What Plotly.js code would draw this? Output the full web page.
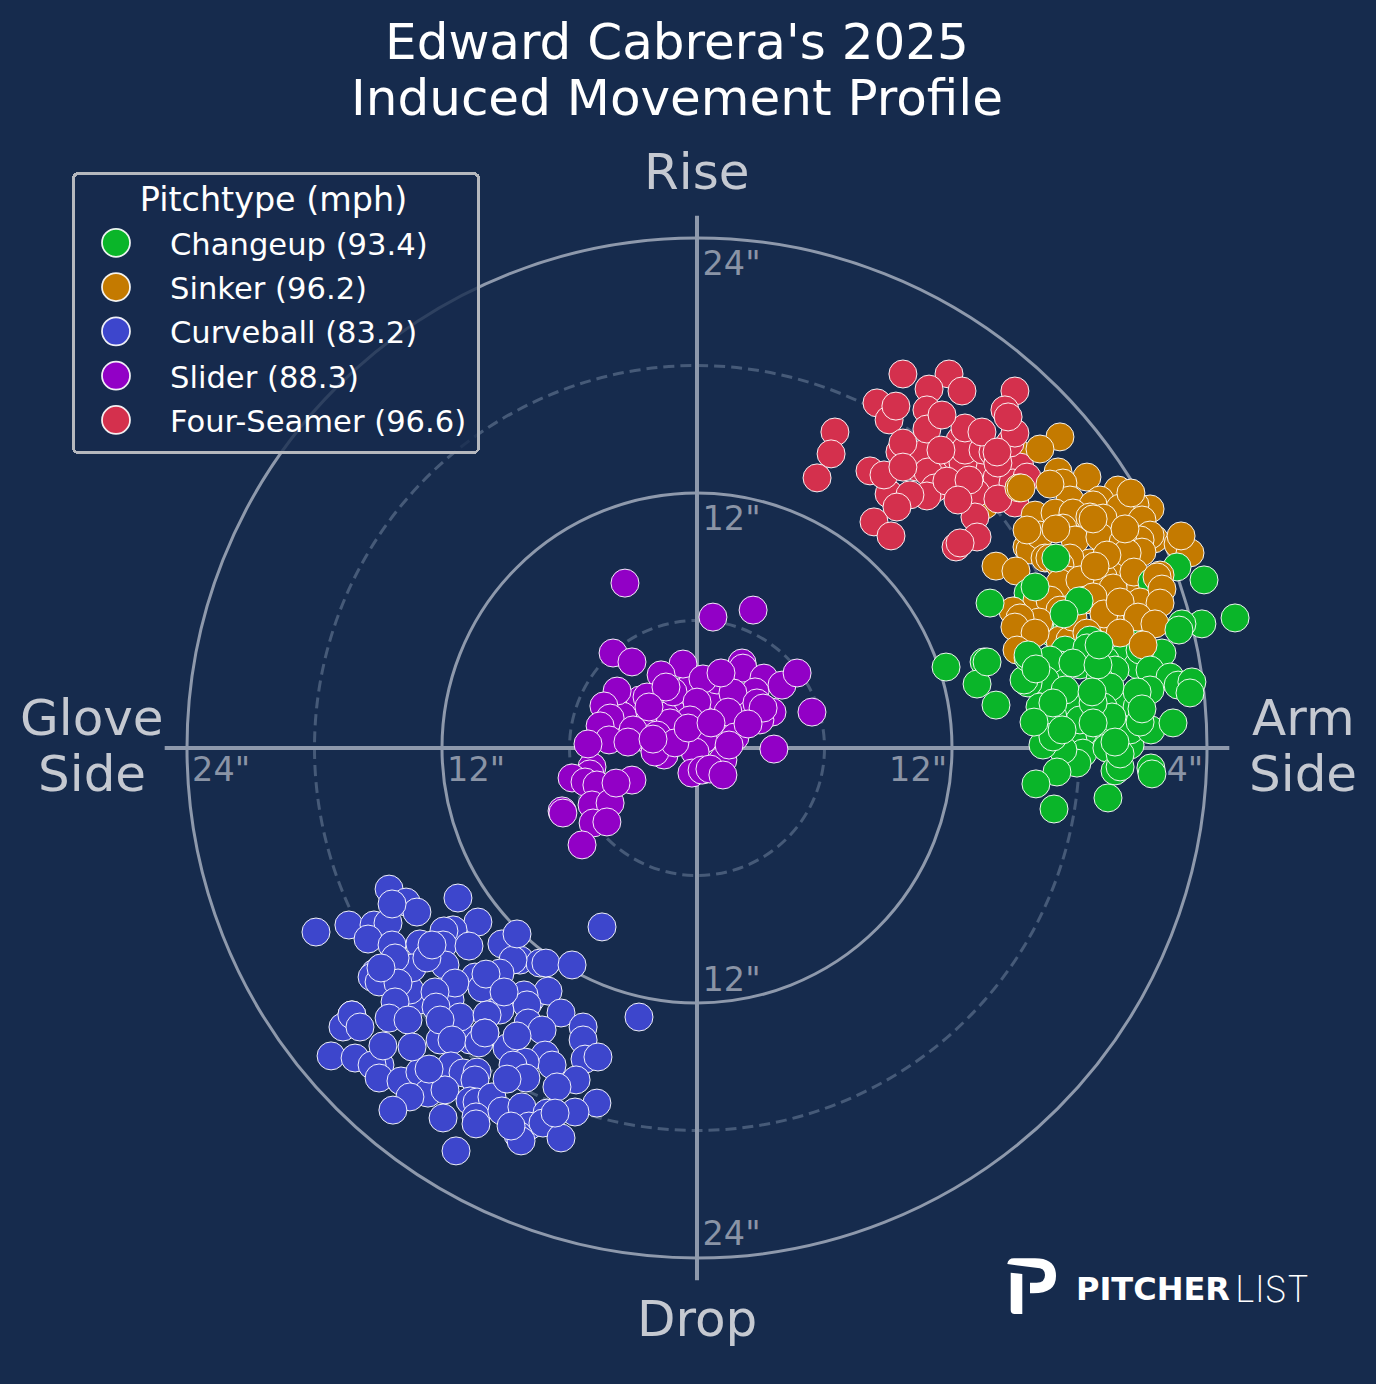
<!DOCTYPE html>
<html>
<head>
<meta charset="utf-8">
<script src="https://cdn.plot.ly/plotly-3.0.1.min.js"></script>
<style>html,body{margin:0;padding:0;background:#162B4D}#chart{width:1376px;height:1384px}</style>
</head>
<body>
<div id="chart"></div>
<script>
// Induced movement in inches: [horizontal, vertical]
const sinkerBack = [[14.96,14.02],[13.55,11.44]];
const fourSeamer = [[10.35,13.22],[11.76,13.41],[13.18,13.22],[12.52,13.41],[13.65,12.14],[15.2,13.22],[14.12,12.71],[14.87,12.47],[15.53,12.75],[14.96,11.53],
[9.55,13.93],[10.64,13.84],[12.38,14.49],[12.61,14.02],[13.46,14.02],[13.93,13.93],[14.73,14.35],[14.16,13.41],[11.11,12.99],[10.87,12.99],[11.2,12.24],[10.82,11.86],[9.04,11.95],[10.02,11.91],[13.13,12.0],[9.41,11.34],[13.08,10.87],[13.18,9.93],[12.19,9.46],
[9.69,17.6],[11.86,17.6],[10.92,16.89],[12.47,16.8],[14.96,16.8],[8.47,16.24],[14.49,15.91],[10.82,15.91],[9.04,15.44],[6.49,14.87],[6.31,13.84],[5.65,12.71],[8.14,13.04],[8.8,12.85],[10.82,15.01],[12.61,15.06],[13.41,14.87],[14.96,14.82],[8.33,10.64],[9.13,9.98],[11.76,12.56],
[9.36,16.09],[14.64,15.58],[11.53,15.67],[9.69,14.35],[11.48,14.02],[14.12,13.93],[9.69,13.22],[12.8,12.61],[14.16,11.72],[12.28,11.67],[12.38,9.65]];
const sinkerMid = [[19.91,8.56],[17.79,10.73],[19.2,10.02],[17.08,7.39],[17.08,14.64],[16.14,14.07],[16.99,12.99],[18.35,12.75],[17.22,12.47],[15.15,12.24],[19.81,12.14],[17.55,11.67],[18.96,11.67],[18.64,11.44],[21.32,11.25],[20.61,11.44],[19.91,11.29],[20.94,10.73],[15.91,10.96],[16.85,11.06],[17.69,11.06],[18.49,10.87],[19.11,10.82],[17.22,10.35],[21.51,9.84],[22.64,9.6],[23.2,9.18],[15.53,9.46],[15.67,9.32],[16.14,10.02],[17.79,9.79],[21.32,10.02],[20.85,9.79],[18.96,9.93],[20.05,9.69],[20.94,9.22],[18.49,8.71],[16.38,8.94],[16.61,8.94],[17.55,8.94],[17.08,8.61],[20.24,9.18],[14.07,8.56],[15.01,8.33],[17.41,7.91],[17.08,7.76],[19.11,8.05],[18.02,7.91],[20.85,7.44],
[19.58,7.53],[20.42,12],[18.64,10.78],[20.14,10.31],[16.89,10.31],[15.53,10.26],[22.78,9.98],[15.25,12.24],[16.61,12.42],[19.29,9.08],[18.73,8.56],[20.56,8.28]];
const changeupLow = [[22.59,8.52],[21.41,7.81],[15.44,6.73],[15.58,7.29],[16.75,5.41],[17.41,5.65],[20.71,5.41],[20,4.24],[20.75,3.91],[21.88,4.47],[20.85,4.61]];
const sinkerFront = [[20.85,6.87],[18.96,5.55],[17.08,5.08],[16,6.96],[16.61,6.96],[17.08,6.49],[18.26,6.96],[19.44,6.02],[17.55,5.08],[21.79,8.14],[21.65,8.05],[21.88,7.48],[21.79,6.82],[18.64,7.11],[19.15,6.31],[19.91,6.87],[20.75,6.16],[21.55,5.84],[17.69,6.16],[16.09,5.93],[14.87,6.45],[15.2,6.12],[14.96,5.69],[15.91,5.41],[15.06,4.61],[19.91,5.41],[18.35,5.41],[20.99,4.85]];
const changeupTop = [[18.49,5.08],[17.32,4.61],[17.08,3.91],[16.61,4.14],[16.38,3.2],[18.02,3.91],[19.2,4.14],[18.35,4.71],[17.69,4],[19.67,3.67],[21.32,3.67],[22.26,3.34],[22.64,2.96],[15.58,3.06],[15.39,3.2],[15.58,4.24],[15.58,4.38],
[19.91,2.26],[21.32,2.73],[18.96,3.2],[17.08,.14],[18.73,.61],[20.38,.14],
[18.16,.71],[17.69,.38],[18.16,-.24],[17.88,-.71],[19.29,0],[19.67,-1.08],[19.91,-.89],[17.22,-.09],[20.38,.85],[20.24,2.26],[19.44,2.87],[17.69,1.93],[18.02,1.32],[20.71,1.93],[20.71,2.64],[21.36,.85],[20.85,1.22],[16.14,1.93],[16.75,1.46],[16.28,.14],[16.75,.52],[19.11,1.93],[19.53,1.46],[17.32,2.73],[18.64,2.12],[19.91,-.28],
[11.72,3.81],[13.51,4.05],[13.18,3.01],[14.07,2.02],[23.29,3.11],[22.4,1.18],[16.94,-1.13],[15.95,-1.69],[16.8,-2.87],[19.34,-2.35],[21.36,-.94],[23.86,7.91],[13.79,6.82],[25.32,6.12],[23.76,5.84],[22.82,5.84],[22.68,5.55],
[13.65,4.05],[15.95,3.72],[18.87,3.91],[18.92,4.85],[18.59,2.64],[16.75,2.12],[15.86,1.22],[18.64,1.18],[17.18,.85],[20.94,1.84],[19.67,.28],[23.2,2.59],[21.41,-1.22],[16.89,8.94],[15.91,7.58],[17.98,6.92],[17.27,6.31]];
const curveball = [[-13.04,-11.86],[-11.62,-11.86],[-9.27,-12.33],[-13.51,-11.39],[-10.68,-13.74],[-7.86,-11.86],[-12.09,-13.74],
[-14.49,-6.64],[-13.69,-7.25],[-13.18,-7.72],[-11.25,-7.06],[-17.93,-8.66],[-16.38,-8.33],[-15.2,-8.33],[-14.54,-8.24],[-15.48,-8.99],[-14.35,-9.27],[-10.31,-8.19],[-11.48,-8.56],[-11.91,-8.61],[-13.04,-9.22],[-11.95,-9.27],[-10.73,-9.32],[-9.18,-9.22],[-4.47,-8.42],[-8.33,-9.98],[-7.39,-10.12],[-7.11,-10.12],[-5.88,-10.21],[-8.66,-9.98],[-11.86,-10.21],[-13.41,-10.35],[-14.21,-9.88],[-12.71,-9.88],[-15.15,-10.59],[-15.29,-10.78],[-14.96,-11.01],[-14.07,-11.06],[-9.27,-10.59],[-10.45,-10.78],[-11.39,-11.06],[-12.33,-11.48],[-10.12,-11.29],[-7.01,-11.44],[-14.21,-11.95],[-8.14,-11.62],[-8,-12.09],[-6.4,-12.47],[-12.28,-12.19],[-11.15,-12.66],[-9.88,-12.56],[-7.95,-12.94],[-14.49,-12.71],[-13.6,-12.8],[-12.09,-12.8],[-16.24,-12.56],[-2.73,-12.66],[-5.36,-13.13],[-16.66,-13.13],[-9.98,-13.41],[-7.29,-13.27],[-5.36,-13.74],[-5.27,-14.64],[-4.66,-14.54],[-17.22,-14.49],[-16.09,-14.59],[-11.53,-13.74],[-10.26,-13.88],[-8.94,-14.12],[-7.15,-14.45],[-6.82,-14.92],[-8.09,-14.78],[-8.66,-14.92],[-14.92,-14.92],[-15.29,-14.92],[-14.96,-15.53],[-13.93,-15.67],[-11.58,-14.96],[-13.04,-15.25],[-11.01,-15.29],[-10.35,-15.25],[-10.45,-15.62],[-8.05,-15.53],[-5.69,-15.62],[-6.59,-15.95],[-12.66,-16.24],[-11.86,-16.09],[-13.51,-16.42],[-14.31,-17.04],[-10.68,-16.61],[-10.35,-16.66],[-9.65,-16.42],[-11.95,-17.41],[-10.4,-17.36],[-10.4,-17.69],[-9.18,-17.08],[-8.24,-16.89],[-4.71,-16.71],[-5.74,-17.13],[-7.06,-17.18],[-7.91,-17.79],[-7.25,-17.65],[-8.42,-18.21],[-8.28,-18.49],[-6.4,-18.35],[-11.34,-18.96],
[-16.24,-12.56],[-15.86,-13.13],[-14.35,-7.34],[-8.47,-8.75],[-14.87,-10.35],[-12.47,-9.27],[-9.93,-10.64],[-9.08,-11.48],[-8.47,-13.55],[-9.98,-13.41],[-8.94,-15.58],[-12.61,-15.11],[-14.78,-14.02],[-13.41,-14.07],[-6.68,-17.18],[-8.75,-17.79]];
const slider = [[-2.68,2.26],[-.8,2.12],[.61,2.26],[-.47,2.73],[-2.68,.52],[2.02,1.18],[-2.5,1.3],[-1.5,1.5],[.2,1.4],[1.2,.9],[-.7,.3],[.3,.4],[2.5,2.2],[-3.5,1.5],
[-3.39,7.76],[.75,6.16],[2.64,6.49],[-3.95,4.47],[-3.06,4.05],[-.66,3.95],[-1.69,3.44],[2.12,4],[2.16,3.76],[.94,3.2],[.28,3.25],[3.15,3.29],[4,2.96],[4.71,3.53],[-3.76,2.68],[-2.35,2.4],[-1.13,2.64],[2.73,2.64],[1.69,2.59],[-4.38,1.98],[0,2.16],[5.41,1.69],[3.53,1.69],[2.82,2.12],[-4.09,1.41],[-4.56,1.04],[1.46,1.69],[2.96,1.32],[-.33,1.32],[-1.27,1.18],[-3.01,.85],[-1.88,.61],[-4.14,.38],[-3.25,.28],[1.79,.52],[3.62,-.05],[-.09,-.19],[-1.55,-.33],[-1.98,-.19],[-1.04,.24],[1.22,-.56],[-.24,-1.18],[.24,-1.04],[.61,-.99],[1.22,-1.27],[-4.94,-.89],[-5.04,-1.22],[-5.88,-1.41],[-5.27,-1.6],[-4.71,-1.74],[-3.06,-1.51],[-4.94,-2.68],[-4.09,-2.59],[-6.35,-2.96],[-4.89,-3.53],
[-1.46,2.87],[-2.26,1.93],[3.11,1.88],[2.4,1.13],[-.42,.94],[.66,1.18],[-2.07,.42],[1.51,.14],[1.13,3.53],[-5.13,.19],[-3.81,-1.65],[-6.31,-3.06],[-4.24,-3.48],[-5.41,-4.56]];

const ringsSolid = [12, 24];
const ringsDashed = [6, 18];
const crossExtent = 25.05;

const tickX = [0.26,0.26,0.26,0.26,-23.76,-11.76,9.04,21.09];
const tickY = [22.66,10.64,-11.04,-23.01,-1.15,-1.15,-1.15,-1.15];
const tickText = ['24"','12"','12"','24"','24"','12"','12"','24"'];

const legendNames = ['Changeup (93.4)','Sinker (96.2)','Curveball (83.2)','Slider (88.3)','Four-Seamer (96.6)'];
const titleText = "Edward Cabrera's 2025<br>Induced Movement Profile";

const GREEN='#0AB529', ORANGE='#C47A00', BLUE='#3D46CC', PURPLE='#9200C6', RED='#D4304D';
const W=1376, H=1384, SCALE=21.25, CX=697, CY=748;

function pts(arr,color,name,rank,group){
  return {type:'scatter',mode:'markers',x:arr.map(p=>p[0]),y:arr.map(p=>p[1]),hoverinfo:'skip',
    name:name||'',showlegend:!!name,legendrank:rank||1000,legendgroup:group,
    marker:{size:28,color:color,line:{color:'rgba(255,255,255,0.92)',width:1}}};
}
const traces=[
  {type:'scatter',mode:'lines',x:[-crossExtent,crossExtent],y:[0,0],showlegend:false,hoverinfo:'skip',line:{color:'#8E99AC',width:4}},
  {type:'scatter',mode:'lines',x:[0,0],y:[-crossExtent,crossExtent],showlegend:false,hoverinfo:'skip',line:{color:'#8E99AC',width:4}},
  {type:'scatter',mode:'text',x:tickX,y:tickY,text:tickText,textposition:'middle right',showlegend:false,hoverinfo:'skip',
   textfont:{family:'DejaVu Sans',size:33.5,color:'#8A94A6'}},
  pts(sinkerBack,ORANGE,'',0,'g2'),
  pts(fourSeamer,RED,legendNames[4],5,'g5'),
  pts(sinkerMid,ORANGE,legendNames[1],2,'g2'),
  pts(changeupLow,GREEN,'',0,'g1'),
  pts(sinkerFront,ORANGE,'',0,'g2'),
  pts(changeupTop,GREEN,legendNames[0],1,'g1'),
  pts(curveball,BLUE,legendNames[2],3,'g3'),
  pts(slider,PURPLE,legendNames[3],4,'g4')
];
const ringShape=(r,dashed)=>({type:'circle',xref:'x',yref:'y',x0:-r,x1:r,y0:-r,y1:r,layer:'below',
  line:dashed?{color:'#465A78',width:3,dash:'11px,6px'}:{color:'#8E99AC',width:3}});
const logoPath='M0.3,-6 Q1,-0.3 7,-0.3 L28,-0.3 Q49,-0.3 49,-18 Q49,-35.3 26.3,-35.3 L23,-35.3 L23,-24.7 L29.7,-24.7 Q38,-24.7 38,-17 Q38,-11.5 33,-10.3 Z M3.7,-14.7 L15.3,-16 L15.3,-56 L7.7,-56 Q3.7,-56 3.7,-52 Z';
const shapes=[...ringsSolid.map(r=>ringShape(r,false)),...ringsDashed.map(r=>ringShape(r,true)),
  {type:'path',layer:'above',xref:'paper',yref:'paper',xsizemode:'pixel',ysizemode:'pixel',xanchor:1007/W,yanchor:1-1258/H,path:logoPath,fillcolor:'#FFFFFF',line:{width:0}}];
const label=(t,px,py,size,color,extra)=>Object.assign({text:t,xref:'paper',yref:'paper',x:px/W,y:1-py/H,xanchor:'center',yanchor:'middle',showarrow:false,
  font:{family:'DejaVu Sans',size:size,color:color}},extra||{});
const GREY='#C5C9D1';
const annotations=[
  label('Rise',697,172,50,GREY),label('Drop',697,1319,50,GREY),
  label('Glove',92,718,50,GREY),label('Side',92,774,50,GREY),
  label('Arm',1303,718,50,GREY),label('Side',1303,774,50,GREY),
  label('PITCHER',1074,1289,32,'#FFFFFF',{xanchor:'left',font:{family:'DejaVu Sans',size:32,color:'#FFFFFF',weight:700}}),
  label('LIST',1233,1289,36,'#FFFFFF',{xanchor:'left',font:{family:'Inter',size:36,color:'#FFFFFF',weight:200}})
];
const layout={width:W,height:H,margin:{l:0,r:0,t:0,b:0},paper_bgcolor:'#162B4D',plot_bgcolor:'#162B4D',showlegend:true,
  font:{family:'DejaVu Sans'},
  title:{text:titleText,x:677/W,xanchor:'center',y:1-59/H,yanchor:'middle',font:{family:'DejaVu Sans',size:50,color:'#FFFFFF'}},
  xaxis:{visible:false,range:[-CX/SCALE,(W-CX)/SCALE],fixedrange:true},
  yaxis:{visible:false,range:[(CY-H)/SCALE,CY/SCALE],fixedrange:true},
  legend:{x:72/W,y:1-172/H,xanchor:'left',yanchor:'top',bgcolor:'rgba(22,43,77,0.8)',bordercolor:'#B5B8BE',borderwidth:3,
    font:{family:'DejaVu Sans',size:30.6,color:'#FFFFFF'},itemwidth:85,tracegroupgap:1.5,itemclick:false,itemdoubleclick:false,
    title:{text:'Pitchtype (mph)',side:'top center',font:{family:'DejaVu Sans',size:33.4,color:'#FFFFFF'}}},
  shapes:shapes,annotations:annotations};
Plotly.newPlot('chart',traces,layout,{displayModeBar:false}).then(function(gd){
  gd.querySelectorAll('.gtitle tspan.line').forEach(function(t,i){ if(i>0) t.setAttribute('dy',(56/50)+'em'); });
  gd.querySelectorAll('.legend .legendpoints path').forEach(function(p){
    const tr=p.getAttribute('transform')||''; p.setAttribute('transform','translate(-6.5,0) '+tr+' scale(1.75)'); });
  gd.querySelectorAll('.legend .groups').forEach(function(g){
    const tr=g.getAttribute('transform')||''; g.setAttribute('transform','translate(0,-2) '+tr); });
  const lt=gd.querySelector('.legend .legendtitletext');
  if(lt){ lt.setAttribute('transform','translate(0,-7)'); }
  const bg=gd.querySelector('.legend rect.bg');
  if(bg){bg.setAttribute('rx','5');bg.setAttribute('ry','5');bg.setAttribute('width',String(405));bg.setAttribute('height',String(279));}
});
</script>
</body>
</html>
